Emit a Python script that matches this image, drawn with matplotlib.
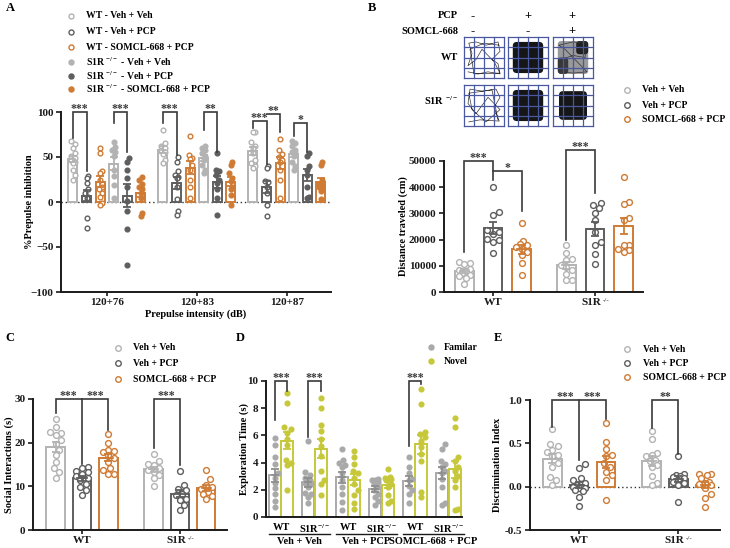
import numpy as np
import matplotlib
matplotlib.use("Agg")
import matplotlib.pyplot as plt
from matplotlib.patches import FancyBboxPatch

plt.rcParams['font.family'] = ['Liberation Serif', 'DejaVu Serif']
plt.rcParams['font.weight'] = 'bold'
plt.rcParams['mathtext.fontset'] = 'custom'
plt.rcParams['mathtext.rm'] = 'Liberation Serif'
plt.rcParams['mathtext.it'] = 'Liberation Serif:italic'
plt.rcParams['mathtext.bf'] = 'Liberation Serif:bold'

# ---------------- DATA ----------------
# Panel A: %Prepulse inhibition
A_TICKS = ['120+76', '120+83', '120+87']
A_LEGEND = ['WT - Veh + Veh', 'WT - Veh + PCP', 'WT - SOMCL-668 + PCP',
            'S1R $^{-/-}$ - Veh + Veh', 'S1R $^{-/-}$ - Veh + PCP',
            'S1R $^{-/-}$ - SOMCL-668 + PCP']
a_wt_veh_veh = [[68, 64, 60, 54, 51, 49, 47, 45, 43, 36, 30, 25],
                [80, 66, 62, 60, 58, 56, 53, 47, 43],
                [78, 78, 67, 62, 60, 54, 47, 43, 40, 38]]
a_wt_veh_pcp = [[29, 27, 21, 14, 10, 6, 4, -18, -29],
                [50, 45, 35, 30, 28, 27, 17, 3, -10, -14],
                [40, 38, 23, 22, 17, 10, -3, -16]]
a_wt_somcl = [[60, 54, 34, 32, 25, 17, 14, 10, 6, -1, -3],
              [73, 52, 49, 48, 41, 36, 25, 17, 4],
              [70, 58, 53, 50, 47, 45, 36, 25, 4]]
a_ko_veh_veh = [[67, 61, 58, 56, 51, 36, 29, 19, 4],
                [62, 60, 58, 54, 51, 47, 41, 36, 32],
                [68, 66, 62, 58, 56, 55, 51, 45, 40, 36]]
a_ko_veh_pcp = [[49, 45, 36, 27, 17, 1, -10, -30, -70],
                [54, 36, 34, 30, 25, 21, 14, 4, -14],
                [54, 51, 40, 36, 30, 17, 6, 4]]
a_ko_somcl = [[28, 25, 20, 17, 14, 10, 4, -12, -15],
              [45, 41, 32, 27, 23, 17, 14, 8, -3],
              [45, 41, 25, 20, 19, 17, 16, 12, 3]]

# Panel B: distance traveled (cm)
GENOTYPES = ['WT', 'S1R']
GENO_SUP = '-/-'
TREAT_LEGEND = ['Veh + Veh', 'Veh + PCP', 'SOMCL-668 + PCP']
b_veh_veh = [[11500, 11200, 10800, 8800, 8400, 8000, 7200, 6500, 6000, 5500, 3200],
             [17900, 14700, 12700, 12100, 10200, 9600, 8300, 7000, 4500, 4500]]
b_veh_pcp = [[40200, 30600, 29300, 23600, 23000, 22300, 20400, 19800, 19100, 15000],
             [33800, 33200, 31900, 30000, 27400, 23000, 19100, 18100, 14400, 10800]]
b_somcl = [[26400, 19400, 18500, 18100, 17200, 16600, 15300, 14000, 11100, 6400],
           [43800, 34400, 33500, 28100, 27400, 18000, 17900, 16600, 15900, 15300]]

# Panel C: social interactions (s)
c_veh_veh = [[25.5, 23.6, 22.5, 22.2, 21.7, 20.6, 19.8, 18.4, 17.1, 15.6, 14.1, 13.3, 12.0],
             [17.4, 15.8, 15.2, 14.8, 14.1, 13.7, 13.3, 12.5, 11.8, 10.0]]
c_veh_pcp = [[14.5, 14.3, 13.5, 13.3, 12.9, 12.3, 11.8, 11.4, 10.6, 9.9, 9.1, 8.0],
             [13.5, 10.3, 9.5, 9.1, 8.3, 8.0, 7.2, 6.8, 5.7, 4.5]]
c_somcl = [[21.9, 20.0, 18.4, 18.1, 17.8, 17.1, 16.4, 15.6, 14.1, 13.7, 12.9, 12.8],
           [13.8, 11.6, 10.3, 9.9, 9.5, 8.7, 8.3, 7.7, 7.2]]

# Panel D: exploration time (s)
D_GENO = ['WT', 'S1R$^{-/-}$', 'WT', 'S1R$^{-/-}$', 'WT', 'S1R$^{-/-}$']
D_TREAT = ['Veh + Veh', 'Veh + PCP', 'SOMCL-668 + PCP']
D_LEGEND = ['Familar', 'Novel']
d_familiar = [[5.8, 5.3, 4.4, 3.9, 3.2, 2.9, 2.5, 2.1, 1.7, 1.2, 0.7],
              [5.6, 3.3, 3.1, 2.9, 2.7, 2.5, 2.4, 2.2, 1.8, 1.7, 1.5, 1.0],
              [5.0, 4.2, 4.0, 3.8, 3.7, 3.2, 2.7, 2.2, 1.7, 1.1, 0.55],
              [2.8, 2.7, 2.7, 2.6, 2.45, 2.2, 1.95, 1.7, 1.5, 1.2, 0.85],
              [4.4, 3.7, 3.2, 2.8, 2.7, 2.3, 1.95, 1.7, 1.0],
              [5.35, 5.0, 4.15, 3.9, 3.7, 3.4, 3.2, 2.8, 2.2, 1.0, 0.85]]
d_novel = [[9.1, 8.4, 6.6, 6.5, 6.2, 5.7, 5.3, 4.0, 3.8, 4.2, 2.0],
           [8.75, 8.0, 6.8, 6.3, 5.7, 5.2, 4.5, 3.4, 2.7, 2.4, 1.6],
           [4.85, 4.4, 3.9, 3.4, 3.2, 2.9, 2.45, 1.95, 1.6, 1.0, 0.6],
           [3.55, 2.95, 2.9, 2.8, 2.8, 2.7, 2.45, 2.2, 1.6, 1.2, 1.0],
           [9.4, 8.3, 6.25, 6.1, 5.9, 5.6, 5.15, 4.65, 4.15, 1.85, 1.45],
           [7.3, 6.6, 4.4, 4.15, 3.7, 3.4, 3.05, 2.7, 2.2, 0.6, 0.55]]

# Panel E: discrimination index
e_veh_veh = [[0.67, 0.49, 0.47, 0.42, 0.40, 0.37, 0.35, 0.27, 0.23, 0.115, 0.08, 0.02],
             [0.64, 0.55, 0.39, 0.37, 0.35, 0.31, 0.30, 0.25, 0.23, 0.12, 0.04, 0.02]]
e_veh_pcp = [[0.26, 0.22, 0.10, 0.08, 0.04, 0.02, 0.0, 0.0, -0.02, -0.02, -0.04, -0.05, -0.115, -0.22],
             [0.35, 0.15, 0.13, 0.12, 0.115, 0.10, 0.08, 0.05, 0.04, 0.02, -0.18]]
e_somcl = [[0.73, 0.51, 0.43, 0.37, 0.35, 0.27, 0.23, 0.17, 0.13, 0.08, -0.15],
           [0.15, 0.15, 0.13, 0.10, 0.05, 0.04, 0.03, 0.02, -0.02, -0.08, -0.13, -0.23]]

# Panel B track sketches (relative coordinates in each arena)
track_wt_veh = [(0.1, 0.85), (0.35, 0.9), (0.6, 0.85), (0.9, 0.9), (0.85, 0.65), (0.7, 0.55),
                (0.9, 0.35), (0.85, 0.12), (0.55, 0.2), (0.3, 0.12), (0.12, 0.15), (0.2, 0.4),
                (0.1, 0.7), (0.3, 0.55), (0.45, 0.3), (0.75, 0.6), (0.9, 0.88), (0.25, 0.9),
                (0.15, 0.3), (0.5, 0.15), (0.88, 0.2)]
track_ko_veh = [(0.12, 0.9), (0.4, 0.85), (0.88, 0.88), (0.75, 0.55), (0.9, 0.3), (0.8, 0.1),
                (0.45, 0.15), (0.15, 0.1), (0.1, 0.45), (0.3, 0.7), (0.6, 0.3), (0.9, 0.6),
                (0.55, 0.9), (0.2, 0.6), (0.12, 0.2), (0.7, 0.12), (0.85, 0.85)]
track_wt_somcl = [(0.15, 0.2), (0.5, 0.12), (0.85, 0.15), (0.8, 0.5), (0.5, 0.45), (0.2, 0.55),
                  (0.15, 0.85), (0.5, 0.88), (0.85, 0.85), (0.6, 0.6), (0.3, 0.3), (0.15, 0.2)]

# ---------------- STYLE ----------------
W, H = 730, 548
C_LIGHT = '#b3b3b3'
C_DARK = '#5e5e5e'
C_ORANGE = '#cf7b34'
C_FAM = '#a9a9a9'
C_NOV = '#c6c83a'
C_AX = '#1a1a1a'
C_BR = '#3a3a3a'

fig = plt.figure(figsize=(W / 100, H / 100), dpi=100)
fig.patch.set_facecolor('white')


def setup_ax(box, xlim, ylim):
    l, t, r, b = box
    ax = fig.add_axes([l / W, 1 - b / H, (r - l) / W, (b - t) / H])
    ax.set_xlim(*xlim)
    ax.set_ylim(*ylim)
    for s in ['top', 'right']:
        ax.spines[s].set_visible(False)
    for s in ['left', 'bottom']:
        ax.spines[s].set_linewidth(1.4)
        ax.spines[s].set_color(C_AX)
    ax.tick_params(width=1.2, length=3.5, labelsize=8, colors=C_AX, pad=2)
    ax.tick_params(axis='x', length=3, pad=1)
    ax.patch.set_alpha(0)
    return ax


def geno_ticks(ax, xs):
    ax.set_xticks(xs)
    ax.set_xticklabels([GENOTYPES[0], ''])
    ax.annotate(GENOTYPES[1], xy=(xs[1], 0), xycoords=('data', 'axes fraction'),
                xytext=(4.5, -4), textcoords='offset points', fontsize=8,
                ha='right', va='top', color=C_AX)
    ax.annotate(GENO_SUP, xy=(xs[1], 0), xycoords=('data', 'axes fraction'),
                xytext=(5.3, -6.0), textcoords='offset points', fontsize=5,
                fontweight='normal', ha='left', va='center', color=C_AX)


def px_scale(ax):
    bb = ax.get_position()
    x0, x1 = ax.get_xlim()
    y0, y1 = ax.get_ylim()
    return bb.width * W / (x1 - x0), bb.height * H / (y1 - y0)


def swarm(ax, vals, diam, maxw):
    sx, sy = px_scale(ax)
    vals = np.asarray(vals, float)
    order = np.argsort(vals)
    placed = []
    xs = np.zeros(len(vals))
    step = diam * 0.3
    cands = [0.0]
    for k in range(1, 40):
        cands += [k * step, -k * step]
    cands = [c for c in cands if abs(c) <= maxw]
    for i in order:
        yp = vals[i] * sy
        best, bestd = 0.0, -1
        for c in cands:
            if not placed:
                best = c
                break
            d = min(np.hypot(c - px, yp - py) for px, py in placed)
            if d >= diam * 0.95:
                best = c
                break
            if d > bestd:
                bestd, best = d, c
        placed.append((best, yp))
        xs[i] = best / sx
    return xs


def bar_dots(ax, x, vals, color, filled, width, ms=4.0, ecolor=None):
    vals = np.asarray(vals, float)
    m = vals.mean()
    se = vals.std(ddof=1) / np.sqrt(len(vals))
    ax.bar(x, m, width, facecolor='white', edgecolor=color, linewidth=1.4, zorder=2)
    sx, sy = px_scale(ax)
    offs = swarm(ax, vals, ms * 1.39 + 0.6, width * sx / 2 - 1.5)
    ax.plot(x + offs, vals, 'o', ms=ms, mfc=color if filled else 'white', mec=color,
            mew=1.0, ls='none', zorder=3, clip_on=False)
    ax.errorbar(x, m, yerr=se, color=ecolor or color, capsize=3, elinewidth=1.3,
                capthick=1.3, zorder=4, fmt='none')
    ax.plot([x - width * 0.25, x + width * 0.25], [m, m], color=ecolor or color, lw=1.3, zorder=4)


def bracket(ax, x1, x2, top, b1, b2, label, fs=8.5):
    ax.plot([x1, x1, x2, x2], [b1, top, top, b2], color=C_BR, lw=1.2, clip_on=False,
            zorder=6, solid_joinstyle='miter')
    if label:
        ax.annotate(label, (0.5 * (x1 + x2), top), xytext=(0, -2.5), textcoords='offset points',
                    ha='center', va='bottom', fontsize=fs, color=C_BR, annotation_clip=False)


# overlay in pixel coordinates
ov = fig.add_axes([0, 0, 1, 1], zorder=10)
ov.set_xlim(0, W)
ov.set_ylim(H, 0)
ov.axis('off')
ov.patch.set_alpha(0)


def legend(xm, xt, ys, labels, colors, filled, ms=3.6, fs=7):
    for y, lab, c, f in zip(ys, labels, colors, filled):
        ov.plot([xm], [y], 'o', ms=ms, mfc=c if f else 'white', mec=c, mew=1.0)
        ov.text(xt, y, lab, va='center', ha='left', fontsize=fs)


# panel letters
for lab, (x, y) in zip('ABCDE', [(6, 8), (368, 8), (5, 338), (236, 338), (494, 338)]):
    ov.text(x, y, lab, fontsize=9, ha='left', va='center')

# ================= Panel A =================
axA = setup_ax((61, 112, 331, 292), (-0.51, 2.49), (-100, 100))
a_series = [a_wt_veh_veh, a_wt_veh_pcp, a_wt_somcl, a_ko_veh_veh, a_ko_veh_pcp, a_ko_somcl]
a_cols = [C_LIGHT, C_DARK, C_ORANGE, C_LIGHT, C_DARK, C_ORANGE]
a_fill = [False, False, False, True, True, True]
a_off = (np.arange(6) - 2.5) * 0.151
for g in range(3):
    for k in range(6):
        bar_dots(axA, g + a_off[k], a_series[k][g], a_cols[k], a_fill[k], 0.1, ms=3.4)
axA.axhline(0, ls=(0, (1, 2)), color='#333333', lw=1.0, zorder=1)
axA.set_yticks([-100, -50, 0, 50, 100])
axA.set_xticks(range(3))
axA.set_xticklabels(A_TICKS)
for g, k1, k2, top, b1, b2, lab in [
        (0, 0, 1, 100, 71, 34, '***'), (0, 3, 4, 100, 88, 56, '***'),
        (1, 0, 1, 100, 88, 52, '***'), (1, 3, 4, 100, 80, 56, '**'),
        (2, 0, 1, 90, 82, 42, '***'), (2, 1, 2, 98, 98, 78, '**'),
        (2, 3, 4, 88, 73, 56, '*')]:
    bracket(axA, g + a_off[k1], g + a_off[k2], top, b1, b2, lab)
ov.text(30, 202, '%Prepulse inhibition', rotation=90, ha='center', va='center', fontsize=7.5)
ov.text(196, 314, 'Prepulse intensity (dB)', ha='center', va='center', fontsize=7.5)
legend(71, 86, [16, 32, 47, 62, 76, 89], A_LEGEND, a_cols, a_fill)

# ================= Panel B tracks =================
ov.text(458, 16, 'PCP', ha='right', va='center', fontsize=7.5)
ov.text(458, 31, 'SOMCL-668', ha='right', va='center', fontsize=7.5)
for x, s1, s2 in [(473, '-', '-'), (528, '+', '-'), (572, '+', '+')]:
    ov.text(x, 16, s1, ha='center', va='center', fontsize=9)
    ov.text(x, 31, s2, ha='center', va='center', fontsize=9)
ov.text(458, 57, 'WT', ha='right', va='center', fontsize=7.5)
ov.text(458, 101, 'S1R $^{-/-}$', ha='right', va='center', fontsize=7.5)
box_x = [464, 508, 553]
box_y = [37, 85]
bw, bh = 40, 41
for r, y0 in enumerate(box_y):
    for c, x0 in enumerate(box_x):
        if c == 0:
            tr = track_wt_veh if r == 0 else track_ko_veh
            ov.plot([x0 + p[0] * bw for p in tr], [y0 + p[1] * bh for p in tr],
                    color='#333333', lw=0.5, zorder=1)
        elif c == 1 or (c == 2 and r == 1):
            ins = 0.12 if c == 1 else 0.15
            ov.add_patch(FancyBboxPatch((x0 + ins * bw, y0 + ins * bh), (1 - 2 * ins) * bw,
                                        (1 - 2 * ins) * bh, boxstyle='round,pad=0,rounding_size=4',
                                        fc='#161616', ec='none', zorder=1))
        else:
            ov.add_patch(FancyBboxPatch((x0 + 0.12 * bw, y0 + 0.1 * bh), 0.76 * bw, 0.8 * bh,
                                        boxstyle='round,pad=0,rounding_size=3',
                                        fc='#9a9a9a', ec='none', zorder=1))
            ov.add_patch(FancyBboxPatch((x0 + 0.58 * bw, y0 + 0.1 * bh), 0.3 * bw, 0.32 * bh,
                                        boxstyle='round,pad=0,rounding_size=3',
                                        fc='#202020', ec='none', zorder=1))
            ov.add_patch(FancyBboxPatch((x0 + 0.12 * bw, y0 + 0.5 * bh), 0.26 * bw, 0.4 * bh,
                                        boxstyle='round,pad=0,rounding_size=3',
                                        fc='#3a3a3a', ec='none', zorder=1))
            ov.plot([x0 + p[0] * bw for p in track_wt_somcl],
                    [y0 + p[1] * bh for p in track_wt_somcl], color='#333333', lw=0.5, zorder=1)
        for i in range(5):
            ov.plot([x0 + i * bw / 4] * 2, [y0, y0 + bh], color='#4a58a0', lw=0.9, zorder=2)
            ov.plot([x0, x0 + bw], [y0 + i * bh / 4] * 2, color='#4a58a0', lw=0.9, zorder=2)
legend(627, 642, [90, 105, 119], TREAT_LEGEND, [C_LIGHT, C_DARK, C_ORANGE], [False] * 3, ms=4)

# ================= Panel B chart =================
t_cols = [C_LIGHT, C_DARK, C_ORANGE]
t_off = np.array([-0.28, 0.0, 0.28])
axB = setup_ax((444, 161, 643, 292), (-0.48, 1.47), (0, 50000))
for g in range(2):
    for k, ser in enumerate([b_veh_veh, b_veh_pcp, b_somcl]):
        bar_dots(axB, g + t_off[k], ser[g], t_cols[k], False, 0.18, ms=4.2)
axB.set_yticks(range(0, 50001, 10000))
geno_ticks(axB, [0, 1])
bracket(axB, t_off[0], t_off[1], 50000, 15300, 42700, '***')
bracket(axB, t_off[1], t_off[2], 46300, 46300, 31000, '*')
bracket(axB, 1 + t_off[0], 1 + t_off[1], 54200, 19800, 37600, '***')
ov.text(403, 226, 'Distance traveled (cm)', rotation=90, ha='center', va='center', fontsize=7.5)

# ================= Panel C =================
c_off = np.array([-0.27, 0.0, 0.27])
axC = setup_ax((33, 399, 227, 530), (-0.5, 1.48), (0, 30))
for g in range(2):
    for k, ser in enumerate([c_veh_veh, c_veh_pcp, c_somcl]):
        bar_dots(axC, g + c_off[k], ser[g], t_cols[k], False, 0.185, ms=4.2)
axC.set_yticks([0, 10, 20, 30])
geno_ticks(axC, [0, 1])
bracket(axC, c_off[0], c_off[1], 30, 26.7, 15.2, '***')
bracket(axC, c_off[1], c_off[2], 30, 30, 23, '***')
bracket(axC, 1 + c_off[0], 1 + c_off[1], 30, 18.7, 14.8, '***')
ov.text(9, 465, 'Social Interactions (s)', rotation=90, ha='center', va='center', fontsize=7.5)
legend(118, 133, [348, 363, 379], TREAT_LEGEND, t_cols, [False] * 3, ms=4)

# ================= Panel D =================
axD = setup_ax((266, 381, 462, 517), (-0.45, 5.4), (0, 10))
d_off = 0.19
for i in range(6):
    bar_dots(axD, i - d_off, d_familiar[i], C_FAM, True, 0.36, ms=3.4, ecolor='#8f8f8f')
    bar_dots(axD, i + d_off, d_novel[i], C_NOV, True, 0.36, ms=3.4)
axD.set_yticks([0, 2, 4, 6, 8, 10])
axD.set_xticks([])
bracket(axD, 0 - d_off, 0 + d_off, 10, 7.1, 9.3, '***')
bracket(axD, 1 - d_off, 1 + d_off, 10, 5.9, 9.3, '***')
bracket(axD, 4 - d_off, 4 + d_off, 10, 5.2, 9.8, '***')
for i, lab in enumerate(D_GENO):
    axD.text(i, -0.42, lab, ha='center', va='top', fontsize=7.5)
for j, lab in enumerate(D_TREAT):
    xa, xb = 2 * j - 0.35, 2 * j + 1 + 0.45
    axD.plot([xa, xb], [-1.25, -1.25], color=C_AX, lw=1.0, clip_on=False)
    axD.text(2 * j + 0.55, -1.5, lab, ha='center', va='top', fontsize=7.5)
ov.text(244, 449, 'Exploration Time (s)', rotation=90, ha='center', va='center', fontsize=7.5)
legend(431, 444, [347, 361], D_LEGEND, [C_FAM, C_NOV], [True, True], ms=3.6)

# ================= Panel E =================
axE = setup_ax((530, 400, 720, 530), (-0.495, 1.42), (-0.5, 1.0))
for g in range(2):
    for k, ser in enumerate([e_veh_veh, e_veh_pcp, e_somcl]):
        bar_dots(axE, g + c_off[k], ser[g], t_cols[k], False, 0.185, ms=4.2)
axE.axhline(0, ls=(0, (1, 2)), color='#333333', lw=1.0, zorder=1)
axE.set_yticks([-0.5, 0.0, 0.5, 1.0])
axE.set_yticklabels(['-0.5', '0.0', '0.5', '1.0'])
geno_ticks(axE, [0, 1])
bracket(axE, c_off[0], c_off[1], 1.0, 0.69, 0.31, '***')
bracket(axE, c_off[1], c_off[2], 1.0, 1.0, 0.78, '***')
bracket(axE, 1 + c_off[0], 1 + c_off[1], 1.0, 0.68, 0.38, '**')
ov.text(497, 465, 'Discrimination Index', rotation=90, ha='center', va='center', fontsize=7.5)
legend(627, 643, [349, 363, 377], TREAT_LEGEND, t_cols, [False] * 3, ms=4)

fig.savefig('out.png', dpi=100, facecolor='white')
